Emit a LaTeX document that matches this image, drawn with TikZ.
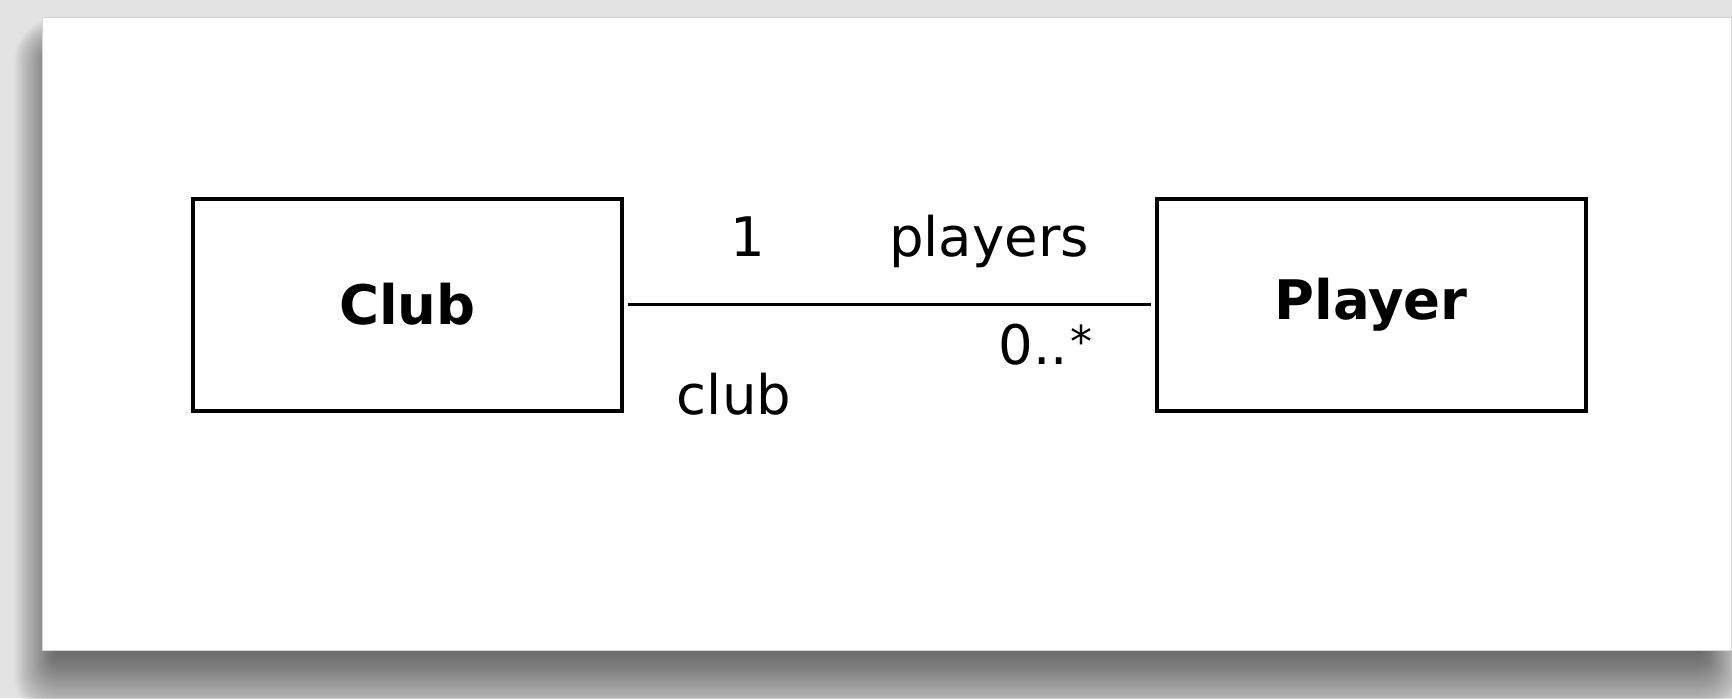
\documentclass[tikz,border=0pt]{standalone}
\usepackage{fontspec}
\setmainfont{DejaVu Sans}
\definecolor{canvas}{HTML}{E3E3E3}
\definecolor{sheetedge}{HTML}{D6D6D6}
\begin{document}
\begin{tikzpicture}[x=0.5pt,y=-0.5pt,
  classbox/.style={draw=black, line width=2pt, fill=white,
    minimum width=214.5pt, minimum height=106pt, inner sep=0pt,
    font=\fontsize{27.25}{32}\selectfont\bfseries},
  rolelabel/.style={anchor=base, inner sep=0pt,
    font=\fontsize{27.25}{32}\selectfont},
  assoc/.style={draw=black, line width=1.8pt, shorten <=2pt, shorten >=2pt}]

% canvas and page size
\useasboundingbox (0,0) rectangle (1732,698);
\fill[canvas] (0,0) rectangle (1732,698);

% soft drop shadow: stacked translucent rounded rectangles,
% spreading further downwards than sideways
\foreach \i in {1,...,40}{
  \pgfmathsetmacro\rr{\i*0.55}
  \fill[black, opacity=0.015, rounded corners=\rr pt]
    (58-1.1*\i,62-1.1*\i) rectangle (1700+1.1*\i,650+1.75*\i);
}

% white sheet
\fill[white, draw=sheetedge, line width=0.5pt] (42,17) rectangle (1731,650);

% classes
\node[classbox] (club)   at (407.5,304.5) {Club};
\node[classbox] (player) at (1371,304.5) {Player};

% association
\draw[assoc] (club.east) -- (player.west);

% role names and multiplicities
\node[rolelabel] (multclub)    at (747.5,256)  {1};
\node[rolelabel] (roleplayers) at (989,256)    {players};
\node[rolelabel] (multplayers) at (1045.5,364)
  {0..\kern1pt\raisebox{3.5pt}{\fontsize{22}{24}\selectfont *}};
\node[rolelabel] (roleclub)    at (734,414)    {club};
\end{tikzpicture}
\end{document}
